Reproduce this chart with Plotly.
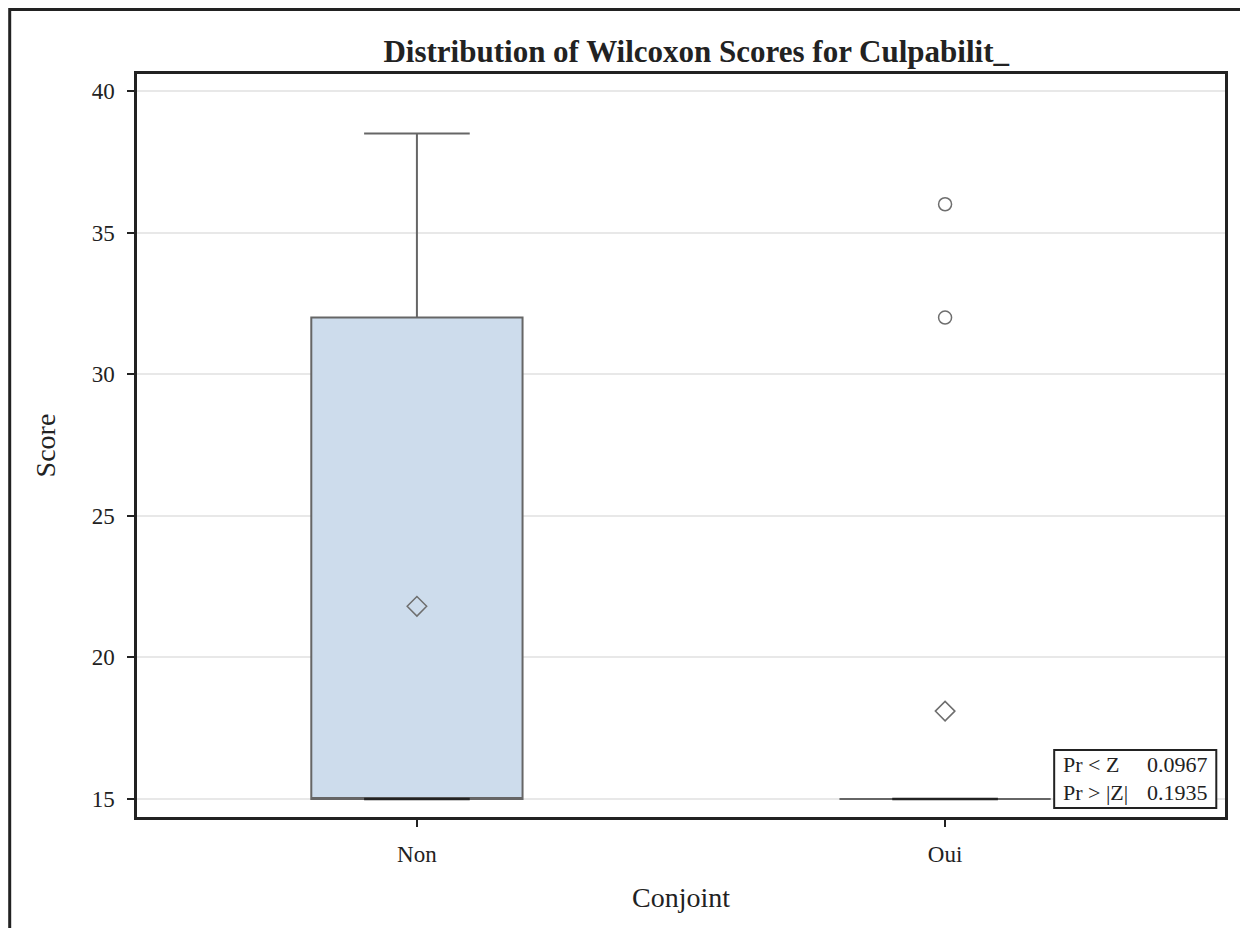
import plotly.graph_objects as go

# data
groups = ["Non", "Oui"]
q1 = [15, 15]
medians = [15, 15]
q3 = [32, 15]
lower_fence = [15, 15]
upper_fence = [38.5, 15]
means = [21.8, 18.1]
outlier_group = ["Oui", "Oui"]
outlier_score = [32, 36]
stat_labels = ["Pr < Z", "Pr > |Z|"]
stat_values = ["0.0967", "0.1935"]

pos = {g: i for i, g in enumerate(groups)}
FONT = "Liberation Serif, Times New Roman, serif"
BOX_W = 0.4

fig = go.Figure()

fig.add_trace(go.Box(
    x=[pos[g] for g in groups],
    q1=q1, median=medians, q3=q3,
    lowerfence=lower_fence, upperfence=upper_fence,
    width=BOX_W, whiskerwidth=0.5,
    fillcolor="#cddcec",
    line=dict(color="#666666", width=2),
    boxpoints=False,
    hoverinfo="skip",
    showlegend=False,
))

# darker median segments, half the box width
mx, my = [], []
for g, m in zip(groups, medians):
    mx += [pos[g] - BOX_W / 4, pos[g] + BOX_W / 4, None]
    my += [m, m, None]
fig.add_trace(go.Scatter(x=mx, y=my, mode="lines",
                         line=dict(color="#232323", width=2.5),
                         showlegend=False, hoverinfo="skip"))

# means
fig.add_trace(go.Scatter(
    x=[pos[g] for g in groups], y=means, mode="markers",
    marker=dict(symbol="diamond-open", size=15, color="#6e6e6e", line=dict(width=1.5)),
    showlegend=False,
))

# outliers
fig.add_trace(go.Scatter(
    x=[pos[g] for g in outlier_group], y=outlier_score, mode="markers",
    marker=dict(symbol="circle-open", size=13, color="#6e6e6e", line=dict(width=1.5)),
    showlegend=False,
))

fig.update_layout(
    width=1232, height=920,
    margin=dict(l=129, r=13, t=66, b=111),
    paper_bgcolor="white", plot_bgcolor="white",
    font=dict(family=FONT, color="#222222", size=23),
    title=dict(text="<b>Distribution of Wilcoxon Scores for Culpabilit_</b>",
               x=0.514, xref="paper", xanchor="center",
               y=0.953, yref="container", yanchor="middle",
               font=dict(size=31, family=FONT, color="#222222")),
    xaxis=dict(
        range=[-0.53, 1.53],
        tickvals=[pos[g] for g in groups], ticktext=groups,
        showgrid=False, zeroline=False,
        showline=True, mirror=True, linecolor="#222222", linewidth=2.5,
        ticks="outside", ticklen=7, tickwidth=2, tickcolor="#222222",
        ticklabelstandoff=8,
        title=dict(text="Conjoint", font=dict(size=28), standoff=22),
        tickfont=dict(size=23),
    ),
    yaxis=dict(
        range=[14.36, 40.6],
        tickvals=[15, 20, 25, 30, 35, 40],
        showgrid=True, gridcolor="#e8e8e8", gridwidth=2, zeroline=False,
        showline=True, mirror=True, linecolor="#222222", linewidth=2.5,
        ticks="outside", ticklen=7, tickwidth=2, tickcolor="#222222",
        ticklabelstandoff=8,
        title=dict(text="Score", font=dict(size=28), standoff=28),
        tickfont=dict(size=23),
    ),
)

# outer frame of the graph (cropped on right/bottom)
fig.add_shape(type="rect", xref="paper", yref="paper",
              x0=-0.1170, x1=1.2, y0=-0.4, y1=1.0868,
              line=dict(color="#222222", width=3), layer="above")

# statistics inset
fig.add_shape(type="rect", xref="paper", yref="paper",
              x0=0.843, x1=0.992, y0=0.0121, y1=0.0902,
              line=dict(color="#222222", width=2), fillcolor="white", layer="above")
for i, (lab, val) in enumerate(zip(stat_labels, stat_values)):
    yy = 0.0713 - i * 0.0377
    fig.add_annotation(x=0.849, y=yy, xref="paper", yref="paper", text=lab,
                       showarrow=False, xanchor="left", yanchor="middle",
                       font=dict(size=22))
    fig.add_annotation(x=0.9862, y=yy, xref="paper", yref="paper", text=val,
                       showarrow=False, xanchor="right", yanchor="middle",
                       font=dict(size=22))

fig.write_html("out.html")
